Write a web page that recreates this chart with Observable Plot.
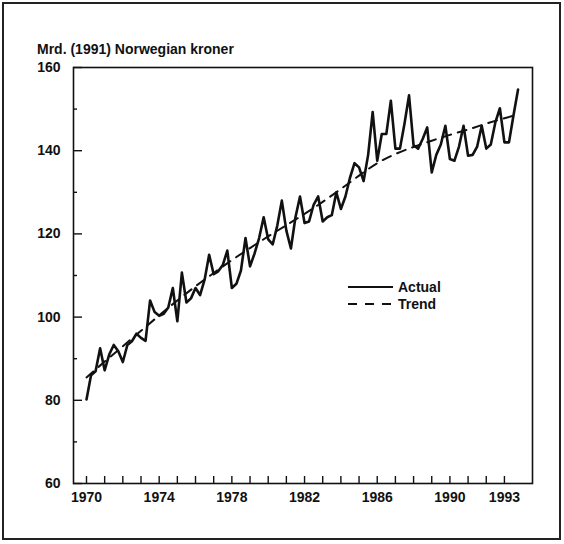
<!DOCTYPE html>
<html>
<head>
<meta charset="utf-8">
<script src="https://cdn.jsdelivr.net/npm/d3@7"></script>
<script src="https://cdn.jsdelivr.net/npm/@observablehq/plot@0.6"></script>
<style>
  html, body { margin: 0; padding: 0; background: #fff; }
  #wrap { position: relative; width: 564px; height: 544px; overflow: hidden;
          font-family: "Liberation Sans", Arial, Helvetica, sans-serif; color: #111; }
  #border { position: absolute; left: 2px; top: 2px; width: 555px; height: 534px; border: 2px solid #222; }
  #chart { position: absolute; left: 0; top: 0; }
  #title { position: absolute; left: 37px; top: 41px; font-size: 14px; line-height: 16px; font-weight: bold; white-space: nowrap; }
  #legend { position: absolute; left: 347px; top: 278px; font-size: 14px; line-height: 16px; font-weight: bold; }
  .row { display: flex; align-items: center; height: 17px; }
  .row svg { margin-right: 5px; }
</style>
</head>
<body>
<div id="wrap">
  <div id="border"></div>
  <div id="chart"></div>
  <div id="title">Mrd. (1991) Norwegian kroner</div>
  <div id="legend">
    <div class="row"><svg width="46" height="16"><line x1="1" x2="46" y1="8" y2="8" stroke="#111" stroke-width="2"/></svg><span>Actual</span></div>
    <div class="row"><svg width="46" height="16"><line x1="1" x2="46" y1="8" y2="8" stroke="#111" stroke-width="2" stroke-dasharray="9,8"/></svg><span>Trend</span></div>
  </div>
</div>
<script>
// ---- data ----
const years = [1970,1971,1972,1973,1974,1975,1976,1977,1978,1979,1980,1981,
               1982,1983,1984,1985,1986,1987,1988,1989,1990,1991,1992,1993];
// quarterly actual values, Q1..Q4 for each year
const actual = [
  80.2, 86.0, 87.0, 92.5,
  87.2, 91.0, 93.3, 91.8,
  89.2, 93.3, 94.2, 96.0,
  95.0, 94.3, 104.0, 101.2,
  100.3, 100.8, 102.3, 107.0,
  99.0, 110.7, 103.5, 104.5,
  107.0, 105.3, 109.0, 115.0,
  110.3, 111.0, 112.5, 116.0,
  107.0, 108.0, 111.2, 119.0,
  112.2, 115.3, 119.0, 124.0,
  118.7, 117.5, 122.0, 128.0,
  120.8, 116.5, 124.0, 129.0,
  122.6, 123.0, 127.0, 129.0,
  123.0, 124.0, 124.5, 130.0,
  126.0, 129.0, 133.5, 137.0,
  136.0, 132.7, 139.0, 149.3,
  137.6, 144.0, 144.0, 152.0,
  140.5, 140.5, 146.5, 153.3,
  141.3, 140.5, 142.8, 145.6,
  134.8, 139.0, 141.5, 146.0,
  138.0, 137.6, 141.0, 146.0,
  138.8, 139.0, 141.0, 146.0,
  140.5, 141.5, 146.8, 150.2,
  142.0, 142.0, 148.5, 154.7
];
const trendTimes = [1970,1971,1972,1973,1974,1975,1976,1977,1978,1979,1980,1981,
                    1982,1983,1984,1985,1986,1987,1988,1989,1990,1991,1992,1993,1993.75];
const trendValues = [85.5,89.3,93.0,96.7,100.4,104.0,107.4,110.6,113.7,116.6,119.4,122.1,
                     124.8,127.7,130.8,134.0,137.0,139.2,140.9,142.4,143.8,145.1,146.5,147.8,148.7];
const xLabelYears = [1970,1974,1978,1982,1986,1990,1993];
const yMajor = [60,80,100,120,140,160];
const yMinor = [70,90,110,130,150];

// ---- tables ----
const actualData = actual.map((v, i) => ({t: years[Math.floor(i / 4)] + (i % 4) / 4, v}));
const trendData = trendTimes.map((t, i) => ({t, v: trendValues[i]}));

const W = 564, H = 544, mL = 73, mR = 32, mT = 67, mB = 61;
const innerW = W - mL - mR, innerH = H - mT - mB;
const ink = "#111";

const chart = Plot.plot({
  width: W, height: H,
  marginLeft: mL, marginRight: mR, marginTop: mT, marginBottom: mB,
  style: {fontFamily: '"Liberation Sans", Arial, Helvetica, sans-serif', fontSize: "14px", fontWeight: "bold", color: ink, background: "transparent"},
  x: {domain: [1969.285, 1994.545], label: null},
  y: {domain: [60, 160], label: null},
  marks: [
    Plot.axisX(xLabelYears, {tickSize: 0, tickPadding: 9, tickFormat: d => String(d), label: null, fill: ink}),
    Plot.axisY(yMajor, {tickSize: 0, tickPadding: 13, label: null, fill: ink}),
    Plot.tickX(years, {x: d => d, insetTop: innerH - 7, stroke: ink, strokeWidth: 1.4}),
    Plot.tickY(yMajor, {y: d => d, insetRight: innerW - 9, stroke: ink, strokeWidth: 1.4}),
    Plot.tickY(yMinor, {y: d => d, insetRight: innerW - 4, stroke: ink, strokeWidth: 1.4}),
    Plot.frame({stroke: ink, strokeWidth: 1.6}),
    Plot.line(trendData, {x: "t", y: "v", curve: "natural", stroke: ink, strokeWidth: 2, strokeDasharray: "9,7"}),
    Plot.line(actualData, {x: "t", y: "v", stroke: ink, strokeWidth: 2.6})
  ]
});
document.getElementById("chart").appendChild(chart);
</script>
</body>
</html>
